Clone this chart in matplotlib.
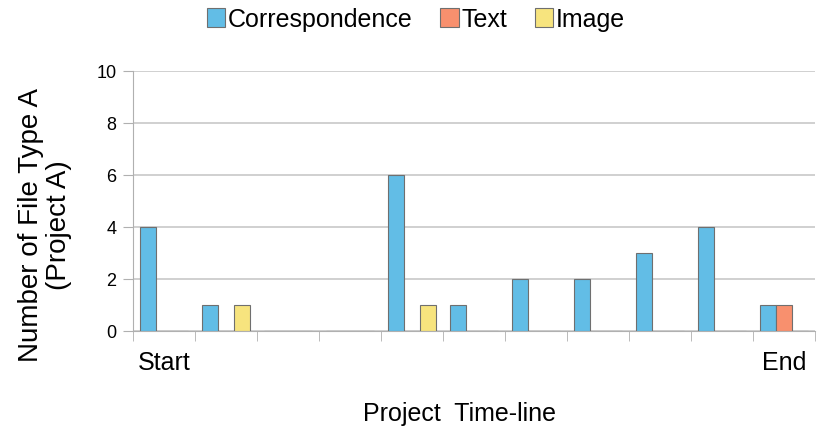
import numpy as np
import matplotlib
matplotlib.use('Agg')
import matplotlib.pyplot as plt
from matplotlib.ticker import FixedLocator

plt.rcParams['font.family'] = ['Liberation Sans', 'DejaVu Sans']

# data
periods = list(range(11))
tick_labels = ['Start', 'End']
correspondence = [4, 1, 0, 0, 6, 1, 2, 2, 3, 4, 1]
text = [0, 0, 0, 0, 0, 0, 0, 0, 0, 0, 1]
image = [0, 1, 0, 0, 1, 0, 0, 0, 0, 0, 0]

fig = plt.figure(figsize=(8.17, 4.27), dpi=100)
ax = fig.add_axes([0.1628, 0.2225, 0.8348, 0.6089])

x = np.array(periods)
w = 0.26
edge = '#6f6f6f'
ax.bar(x - w, correspondence, w, color='#62bde6', edgecolor=edge, linewidth=0.8,
       label='Correspondence', zorder=3)
ax.bar(x, text, w, color='#f8906e', edgecolor=edge, linewidth=0.8,
       label='Text', zorder=3)
ax.bar(x + w, image, w, color='#f7e47e', edgecolor=edge, linewidth=0.8,
       label='Image', zorder=3)

ax.set_xlim(-0.5, 10.5)
ax.set_ylim(0, 10)
ax.set_yticks(range(0, 11, 2))
ax.yaxis.grid(True, color='#c8c8c8', linewidth=1.2, zorder=0)
ax.set_axisbelow(True)

ax.set_xticks([periods[0], periods[-1]])
ax.set_xticklabels(tick_labels, fontsize=18)
ax.xaxis.set_minor_locator(FixedLocator(np.arange(-0.5, 11, 1)))
ax.tick_params(axis='x', which='major', length=0, pad=14)
ax.tick_params(axis='x', which='minor', length=7, color='#b0b0b0')
ax.tick_params(axis='y', length=7, color='#b0b0b0', labelsize=13, pad=5)

for s in ['top', 'right']:
    ax.spines[s].set_visible(False)
ax.spines['left'].set_color('#b0b0b0')
ax.spines['bottom'].set_color('#b0b0b0')

ax.set_ylabel('Number of File Type A\n(Project A)', fontsize=20, linespacing=1.1)
ax.yaxis.set_label_coords(-0.09, 0.412)
ax.set_xlabel('Project  Time-line', fontsize=18)
ax.xaxis.set_label_coords(0.478, -0.27)

fig.legend(loc='center', bbox_to_anchor=(0.509, 0.953), ncol=3, frameon=False,
           fontsize=18, handlelength=0.75, handleheight=0.75, handletextpad=0.1,
           columnspacing=1.1)

fig.savefig('out.png', dpi=100)
